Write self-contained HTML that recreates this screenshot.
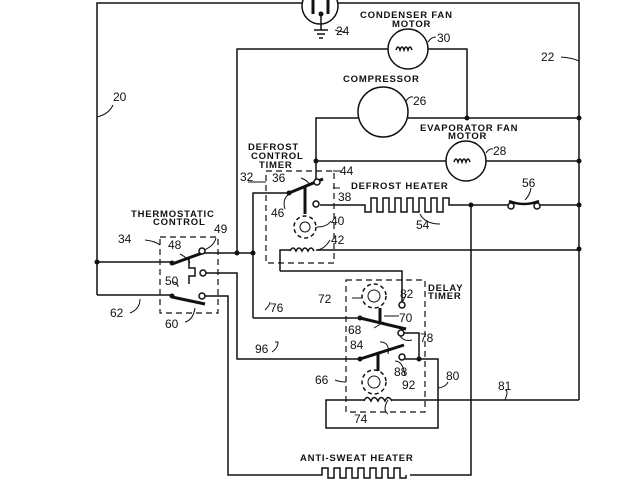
<!DOCTYPE html>
<html><head><style>
html,body{margin:0;padding:0;background:#fff;width:640px;height:480px;overflow:hidden}
svg text{font-family:"Liberation Sans",sans-serif;font-size:9.5px;fill:#111;letter-spacing:0.8px;font-weight:bold}
.n{font-size:12px;letter-spacing:0;font-weight:normal}
</style></head><body>
<svg width="640" height="480" viewBox="0 0 640 480" xmlns="http://www.w3.org/2000/svg">
<g stroke="#111" stroke-width="1.5" fill="none">
<path d="M97 295V3H579V400"/>
<circle cx="320" cy="6" r="18" fill="#fff"/>
<path d="M313 -2V14M328 -2V14" stroke-width="3"/>
<path d="M321 14V30M314 30H328M317 34H325M319 38H323"/>
<path d="M237 253V49H388M428 49H467V118"/>
<circle cx="408" cy="49" r="20"/>
<path d="M396 50q2-6 4 0q2-6 4 0q2-6 4 0q2-6 4 0" />
<path d="M316 180V118H358M408 118H579"/>
<circle cx="383" cy="112" r="25"/>
<path d="M316 161H446M486 161H579"/>
<circle cx="466" cy="161" r="20"/>
<path d="M454 162q2-6 4 0q2-6 4 0q2-6 4 0q2-6 4 0"/>
<path d="M320 205H365V212H371V198H377V212H383V198H389V212H395V198H401V212H407V198H413V212H419V198H425V212H431V198H437V212H443V198H449V205H508M540 205H579"/>
<circle cx="511" cy="206" r="3" fill="#fff"/><circle cx="537" cy="206" r="3" fill="#fff"/>
<path d="M509 201q15 6 30 0" stroke-width="2.5"/>
<path d="M471 205V475H410"/>
<rect x="266" y="171" width="68" height="92" stroke-dasharray="6,4" stroke-width="1.2"/>
<path d="M253 318V193H289"/>
<path d="M289 193L323 179" stroke-width="3"/>
<path d="M305 187V214" stroke-width="3"/>
<circle cx="317" cy="182" r="3" fill="#fff"/>
<circle cx="316" cy="204" r="3" fill="#fff"/>
<circle cx="305" cy="227" r="11" stroke-dasharray="4,3"/><circle cx="305" cy="227" r="5" stroke-width="1"/>
<path d="M280 271V250H290M316 250H579"/>
<path d="M290 251q3-6 6 0q3-6 6 0q3-6 6 0q3-6 6 0"/>
<path d="M280 271H402V302"/>
<rect x="160" y="237" width="58" height="76" stroke-dasharray="6,4" stroke-width="1.2"/>
<path d="M97 262H172M97 295H172"/>
<path d="M172 264L205 252" stroke-width="3"/>
<path d="M172 297L205 304" stroke-width="3"/>
<path d="M189 258V268H195V276H189V284"/>
<path d="M204 253H253"/>
<circle cx="202" cy="251" r="3" fill="#fff"/>
<circle cx="203" cy="273" r="3" fill="#fff"/>
<path d="M206 273H237V359H360"/>
<circle cx="202" cy="296" r="3" fill="#fff"/>
<path d="M205 296H228V475H322V468H328V478H334V468H340V478H346V468H352V478H358V468H364V478H370V468H376V478H382V468H388V478H394V468H400V478H406V475"/>
<rect x="346" y="280" width="79" height="132" stroke-dasharray="6,4" stroke-width="1.2"/>
<circle cx="374" cy="296" r="12" stroke-dasharray="4,3"/><circle cx="374" cy="296" r="6" stroke-width="1"/>
<circle cx="402" cy="305" r="3" fill="#fff"/>
<path d="M253 318H360"/>
<path d="M360 318L406 329" stroke-width="3"/>
<path d="M380 308V323" stroke-width="3"/>
<circle cx="401" cy="333" r="3" fill="#fff"/>
<path d="M404 333H419V359"/>
<path d="M360 359L404 345" stroke-width="3"/>
<path d="M378 353V371" stroke-width="3"/>
<circle cx="402" cy="357" r="3" fill="#fff"/>
<path d="M405 359H438V428H326V400H364M391 400H579"/>
<path d="M364 401q3-7 7 0q3-7 7 0q3-7 7 0q3-7 7 0"/>
<circle cx="374" cy="382" r="12" stroke-dasharray="4,3"/><circle cx="374" cy="382" r="6" stroke-width="1"/>
<path d="M97 117q12-3 16-12" stroke-width="1"/>
<path d="M579 61q-6-3-18-4" stroke-width="1"/>
<path d="M335 30q6 2 10 2" stroke-width="1"/>
<path d="M428 42q3-5 8-5" stroke-width="1"/>
<path d="M406 101q3-5 7-4" stroke-width="1"/>
<path d="M486 153q3-5 7-4" stroke-width="1"/>
<path d="M525 200q5-5 6-12" stroke-width="1"/>
<path d="M420 214q5 10 20 10" stroke-width="1"/>
<path d="M248 182q10 0 18 0" stroke-width="1"/>
<path d="M301 178q8 3 9 8" stroke-width="1"/>
<path d="M285 209q-3-10 4-15" stroke-width="1"/>
<path d="M317 227q10 0 14-6M316 250q8 0 14-10" stroke-width="1"/>
<path d="M333 188H340M333 171H341" stroke-width="1"/>
<path d="M145 240q10 1 15 5" stroke-width="1"/>
<path d="M204 250q10-4 12-12" stroke-width="1"/>
<path d="M180 254q8 4 10 9" stroke-width="1"/>
<path d="M172 282q6 0 6 5" stroke-width="1"/>
<path d="M130 313q10-4 10-14" stroke-width="1"/>
<path d="M185 322q8-2 10-14" stroke-width="1"/>
<path d="M265 310q5-5 5-8" stroke-width="1"/>
<path d="M272 352q6-4 6-10H275" stroke-width="1"/>
<path d="M335 380q5 2 11 2" stroke-width="1"/>
<path d="M362 298H352M402 302q3-4 4-8M384 316h15M374 328q5-3 10-6M400 336q4 6 12 4M380 342q10 0 8 12M395 361q8 0 10 15M438 388q8-1 10-6M505 390q4 0 0 10M388 400q-6 10 0 14" stroke-width="1"/>
</g>
<g fill="#111">
<circle cx="321" cy="14" r="2.5"/>
<circle cx="467" cy="118" r="2.5"/><circle cx="579" cy="118" r="2.5"/>
<circle cx="316" cy="161" r="2.5"/><circle cx="579" cy="161" r="2.5"/>
<circle cx="471" cy="205" r="2.5"/><circle cx="579" cy="205" r="2.5"/><circle cx="579" cy="249" r="2.5"/>
<circle cx="237" cy="253" r="2.5"/><circle cx="253" cy="253" r="2.5"/>
<circle cx="97" cy="262" r="2.5"/><circle cx="172" cy="263" r="2.5"/><circle cx="172" cy="296" r="2.5"/>
<circle cx="289" cy="193" r="2.5"/><circle cx="360" cy="318" r="2.5"/><circle cx="360" cy="359" r="2.5"/><circle cx="419" cy="359" r="2.5"/>
</g>
<text x="360" y="18">CONDENSER FAN</text>
<text x="392" y="27">MOTOR</text>
<text x="343" y="82">COMPRESSOR</text>
<text x="420" y="131">EVAPORATOR FAN</text>
<text x="448" y="139">MOTOR</text>
<text x="351" y="189">DEFROST HEATER</text>
<text x="248" y="150">DEFROST</text>
<text x="251" y="159">CONTROL</text>
<text x="259" y="168">TIMER</text>
<text x="131" y="217">THERMOSTATIC</text>
<text x="153" y="225">CONTROL</text>
<text x="428" y="291">DELAY</text>
<text x="428" y="299">TIMER</text>
<text x="300" y="461">ANTI-SWEAT HEATER</text>
<g class="n">
<text class="n" x="336" y="35">24</text>
<text class="n" x="437" y="42">30</text>
<text class="n" x="413" y="105">26</text>
<text class="n" x="493" y="155">28</text>
<text class="n" x="522" y="187">56</text>
<text class="n" x="416" y="229">54</text>
<text class="n" x="113" y="101">20</text>
<text class="n" x="541" y="61">22</text>
<text class="n" x="240" y="181">32</text>
<text class="n" x="272" y="182">36</text>
<text class="n" x="340" y="175">44</text>
<text class="n" x="338" y="201">38</text>
<text class="n" x="271" y="217">46</text>
<text class="n" x="331" y="225">40</text>
<text class="n" x="331" y="244">42</text>
<text class="n" x="118" y="243">34</text>
<text class="n" x="168" y="249">48</text>
<text class="n" x="214" y="233">49</text>
<text class="n" x="165" y="285">50</text>
<text class="n" x="110" y="317">62</text>
<text class="n" x="165" y="328">60</text>
<text class="n" x="270" y="312">76</text>
<text class="n" x="255" y="353">96</text>
<text class="n" x="315" y="384">66</text>
<text class="n" x="318" y="303">72</text>
<text class="n" x="400" y="298">82</text>
<text class="n" x="399" y="322">70</text>
<text class="n" x="348" y="334">68</text>
<text class="n" x="420" y="342">78</text>
<text class="n" x="350" y="349">84</text>
<text class="n" x="394" y="376">88</text>
<text class="n" x="402" y="389">92</text>
<text class="n" x="446" y="380">80</text>
<text class="n" x="498" y="390">81</text>
<text class="n" x="354" y="423">74</text>
</g>
</svg>
</body></html>
